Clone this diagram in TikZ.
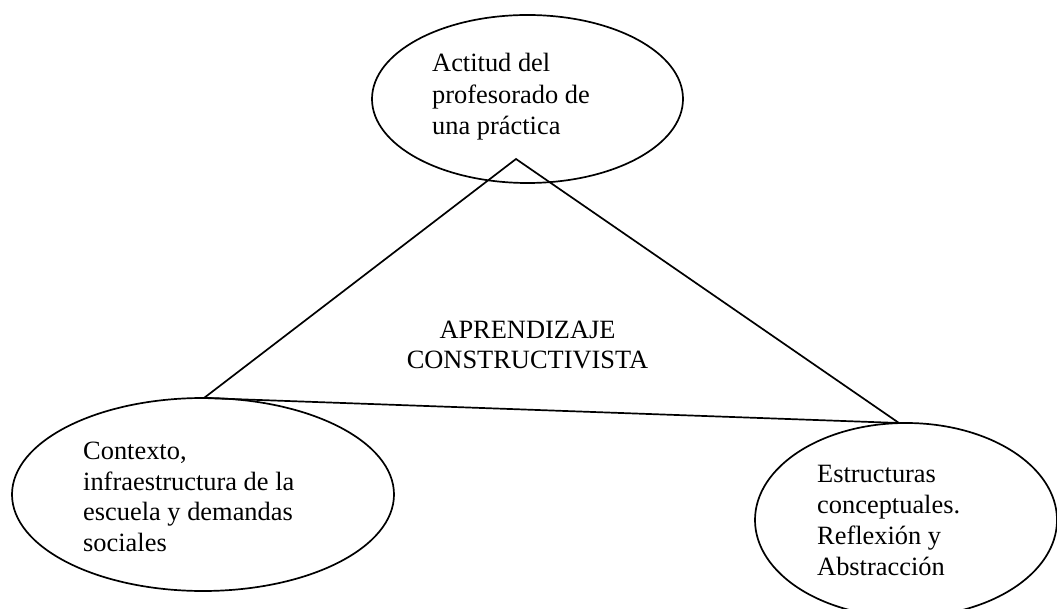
\documentclass[tikz,border=0pt]{standalone}
\usepackage{fontspec}
\setmainfont{Liberation Serif}
\usetikzlibrary{shapes.geometric}
\begin{document}
\begin{tikzpicture}[x=1pt,y=-1pt,
  bubble/.style={draw,ellipse,line width=1.7pt,inner sep=0pt},
  label/.style={align=left,inner sep=0pt,anchor=base west},
  edge/.style={line width=1.7pt}]
\useasboundingbox (0,0) rectangle (1057,609);
% ellipses
\node[bubble,minimum width=311pt,minimum height=168pt] (top) at (527.5,99) {};
\node[bubble,minimum width=382pt,minimum height=193pt] (left) at (203,494.5) {};
\node[bubble,minimum width=302pt,minimum height=194pt] (right) at (906,520) {};
% triangle corners
\coordinate (apex) at (516,159);
\coordinate (lv) at (204,398);
\coordinate (rv) at (899,423);
\draw[edge] (lv) -- (apex) -- (rv);
\draw[edge] (lv) -- (rv);
% texts (anchored at the baseline of the last line)
\node[label,font=\fontsize{26.4}{31.5}\selectfont] (ttop) at (432,135) {Actitud del\\profesorado de\\una práctica};
\node[label,font=\fontsize{26.4}{30.5}\selectfont] (tleft) at (83,551) {Contexto,\\infraestructura de la\\escuela y demandas\\sociales};
\node[label,font=\fontsize{26.4}{30.7}\selectfont] (tright) at (817,575) {Estructuras\\conceptuales.\\Reflexión y\\Abstracción};
\node[align=center,inner sep=0pt,anchor=base,font=\fontsize{26.4}{30}\selectfont] (center) at (527.5,368) {APRENDIZAJE\\CONSTRUCTIVISTA};
\end{tikzpicture}
\end{document}
